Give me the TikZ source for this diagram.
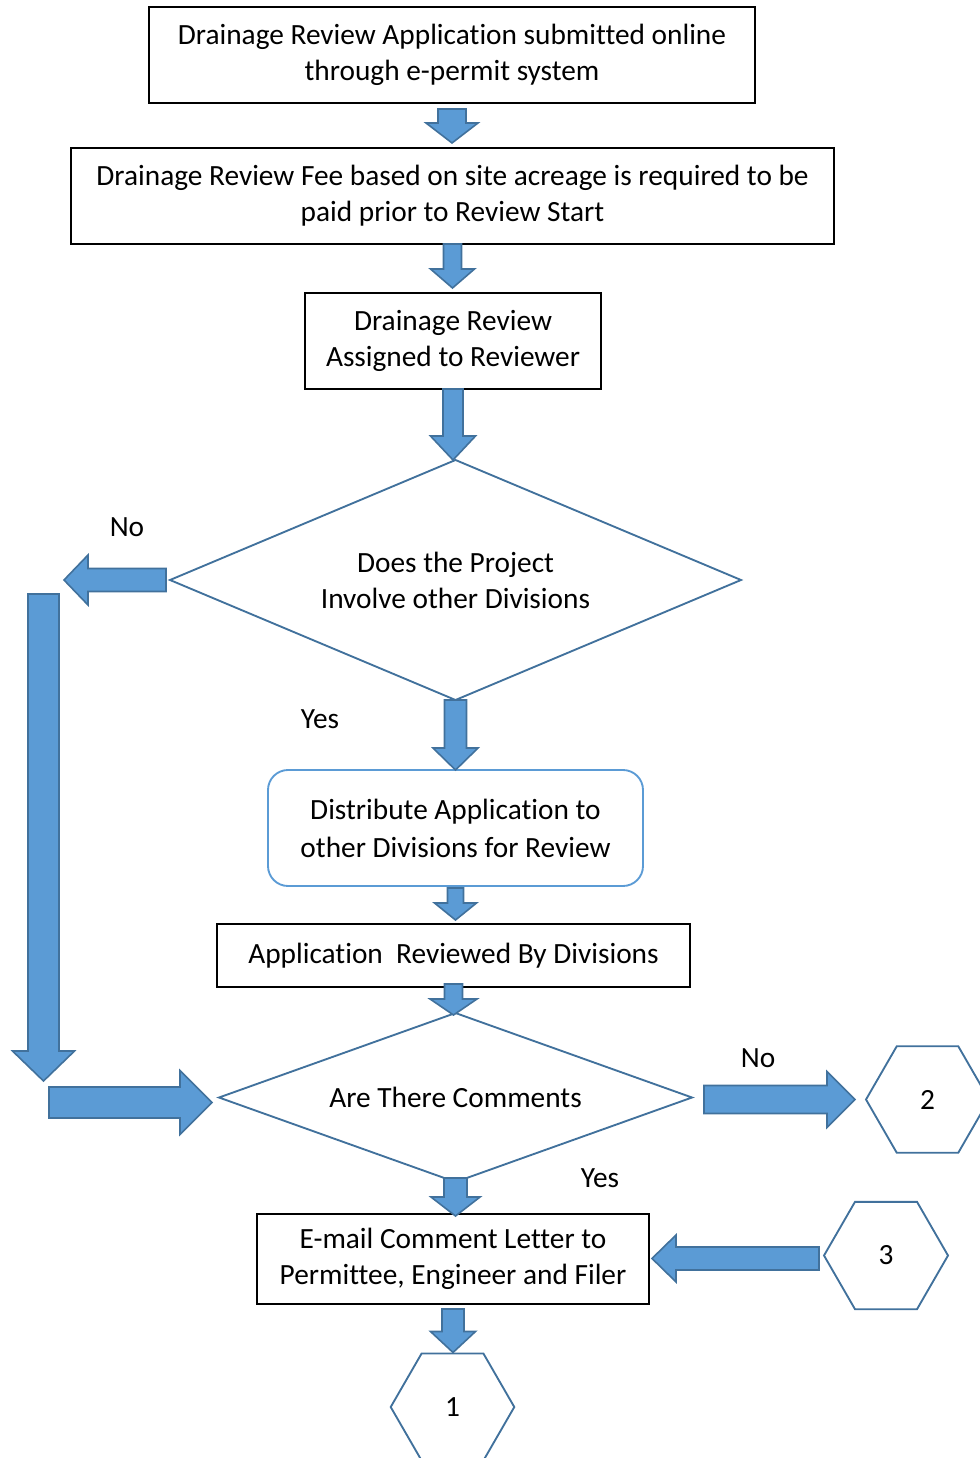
\documentclass[tikz,border=0pt]{standalone}
\usepackage{fontspec}
\setmainfont{Carlito}[Ligatures=NoCommon]
\usetikzlibrary{shapes.geometric,calc}
\definecolor{arrowfill}{RGB}{91,155,213}
\definecolor{arrowline}{RGB}{65,113,156}
\definecolor{softline}{RGB}{91,155,213}
\tikzset{
  stepbox/.style={draw=black,line width=1.4pt,align=center,inner sep=0pt,outer sep=0pt},
  decision/.style={diamond,draw=arrowline,line width=1.4pt,align=center,inner sep=0pt,outer sep=0pt,aspect=2.4},
  hexa/.style={regular polygon,regular polygon sides=6,draw=arrowline,line width=1.4pt,inner sep=0pt,outer sep=0pt},
  fat/.style n args={3}{draw=arrowline,fill=arrowfill,line width=1.2pt,line join=miter,
    to path={let \p1=(\tikztostart), \p2=(\tikztotarget), \n1={atan2(\y2-\y1,\x2-\x1)} in
      ($(\p1)+(\n1+90:#1)$) -- ($(\p2)+(\n1:-#3)+(\n1+90:#1)$) -- ($(\p2)+(\n1:-#3)+(\n1+90:#2)$)
      -- (\p2) -- ($(\p2)+(\n1:-#3)+(\n1-90:#2)$) -- ($(\p2)+(\n1:-#3)+(\n1-90:#1)$)
      -- ($(\p1)+(\n1-90:#1)$) -- cycle}}
}
\begin{document}
\begin{tikzpicture}[x=0.75pt,y=-0.75pt,font=\fontsize{22}{27}\selectfont]
  \useasboundingbox (0,0) rectangle (980,1458);
  \node[stepbox,minimum width=454.5pt,minimum height=72pt] (submit) at (452,55)
    {Drainage Review Application submitted online\\through e-permit system};
  \node[stepbox,minimum width=572.25pt,minimum height=72pt] (fee) at (452.5,196)
    {Drainage Review Fee based on site acreage is required to be\\paid prior to Review Start};
  \node[stepbox,minimum width=222pt,minimum height=72pt] (assign) at (453,341)
    {Drainage Review\\Assigned to Reviewer};
  \node[decision,minimum width=428.25pt,minimum height=180pt] (involve) at (455.5,580)
    {Does the Project\\Involve other Divisions};
  \node[stepbox,draw=softline,rounded corners=15pt,minimum width=281.25pt,minimum height=87pt,
    font=\fontsize{22}{28.5}\selectfont] (distribute) at (455.5,828)
    {Distribute Application to\\other Divisions for Review};
  \node[stepbox,minimum width=354.75pt,minimum height=47.25pt] (reviewed) at (453.5,955.5)
    {Application\ \ Reviewed By Divisions};
  \node[decision,minimum width=354.75pt,minimum height=126.75pt] (comments) at (455.5,1097.5)
    {Are There Comments};
  \node[stepbox,minimum width=294pt,minimum height=67.5pt] (email) at (453,1259)
    {E-mail Comment Letter to\\Permittee, Engineer and Filer};
  \node[hexa,minimum size=92.25pt] (hextwo) at (927.5,1099.5) {2};
  \node[hexa,minimum size=93pt] (hexthree) at (886,1255.5) {3};
  \node[hexa,minimum size=92.7pt] (hexone) at (452.5,1407) {1};

  \node (noleft) at (127,527) {No};
  \node (yesleft) at (320,719) {Yes};
  \node (noright) at (758,1058) {No};
  \node (yesright) at (600,1178) {Yes};

  \coordinate (noend) at (64,580);
  \coordinate (downtop) at (43.5,594);
  \coordinate (downtip) at (43.5,1081);
  \coordinate (rightstart) at (49,1102.5);

  % down arrows of the main column
  \foreach \a/\b/\sw/\hw/\hl/\ga/\gb in {
    submit/fee/10.5/19.5/15/-4.5/3.75,
    fee/assign/6.75/16.5/14.25/0/3.75,
    assign/involve/7.5/16.9/18/0/0,
    involve/distribute/8.25/16.9/16.5/0/0,
    distribute/reviewed/6/15.75/12.75/-1.5/3,
    reviewed/comments/6.75/17.6/12/2.25/-1.5,
    comments/email/8.6/18.4/14.25/3/-1.5,
    email/hexone/8.25/16.9/15.75/-3.75/0.75}
    \draw[fat={\sw pt}{\hw pt}{\hl pt}] ([yshift=\ga pt]\a.south) to ([yshift=\gb pt]\a.south |- \b.north);

  % side branches
  \draw[fat={8.6pt}{18.75pt}{18pt}] ([xshift=-3pt]involve.west) to (noend);
  \draw[fat={11.6pt}{23.25pt}{22.5pt}] (downtop) to (downtip);
  \draw[fat={11.6pt}{24pt}{24pt}] (rightstart) to ([xshift=-5.25pt,yshift=-3.75pt]comments.west);
  \draw[fat={10.5pt}{21pt}{21pt}] ([xshift=9pt,yshift=-1.5pt]comments.east) to ([xshift=-8.25pt]hextwo.west);
  \draw[fat={8.6pt}{17.6pt}{18pt}] ([xshift=-3.75pt,yshift=-2.25pt]hexthree.west) to ([xshift=2.25pt,yshift=0.4pt]email.east);
\end{tikzpicture}
\end{document}
